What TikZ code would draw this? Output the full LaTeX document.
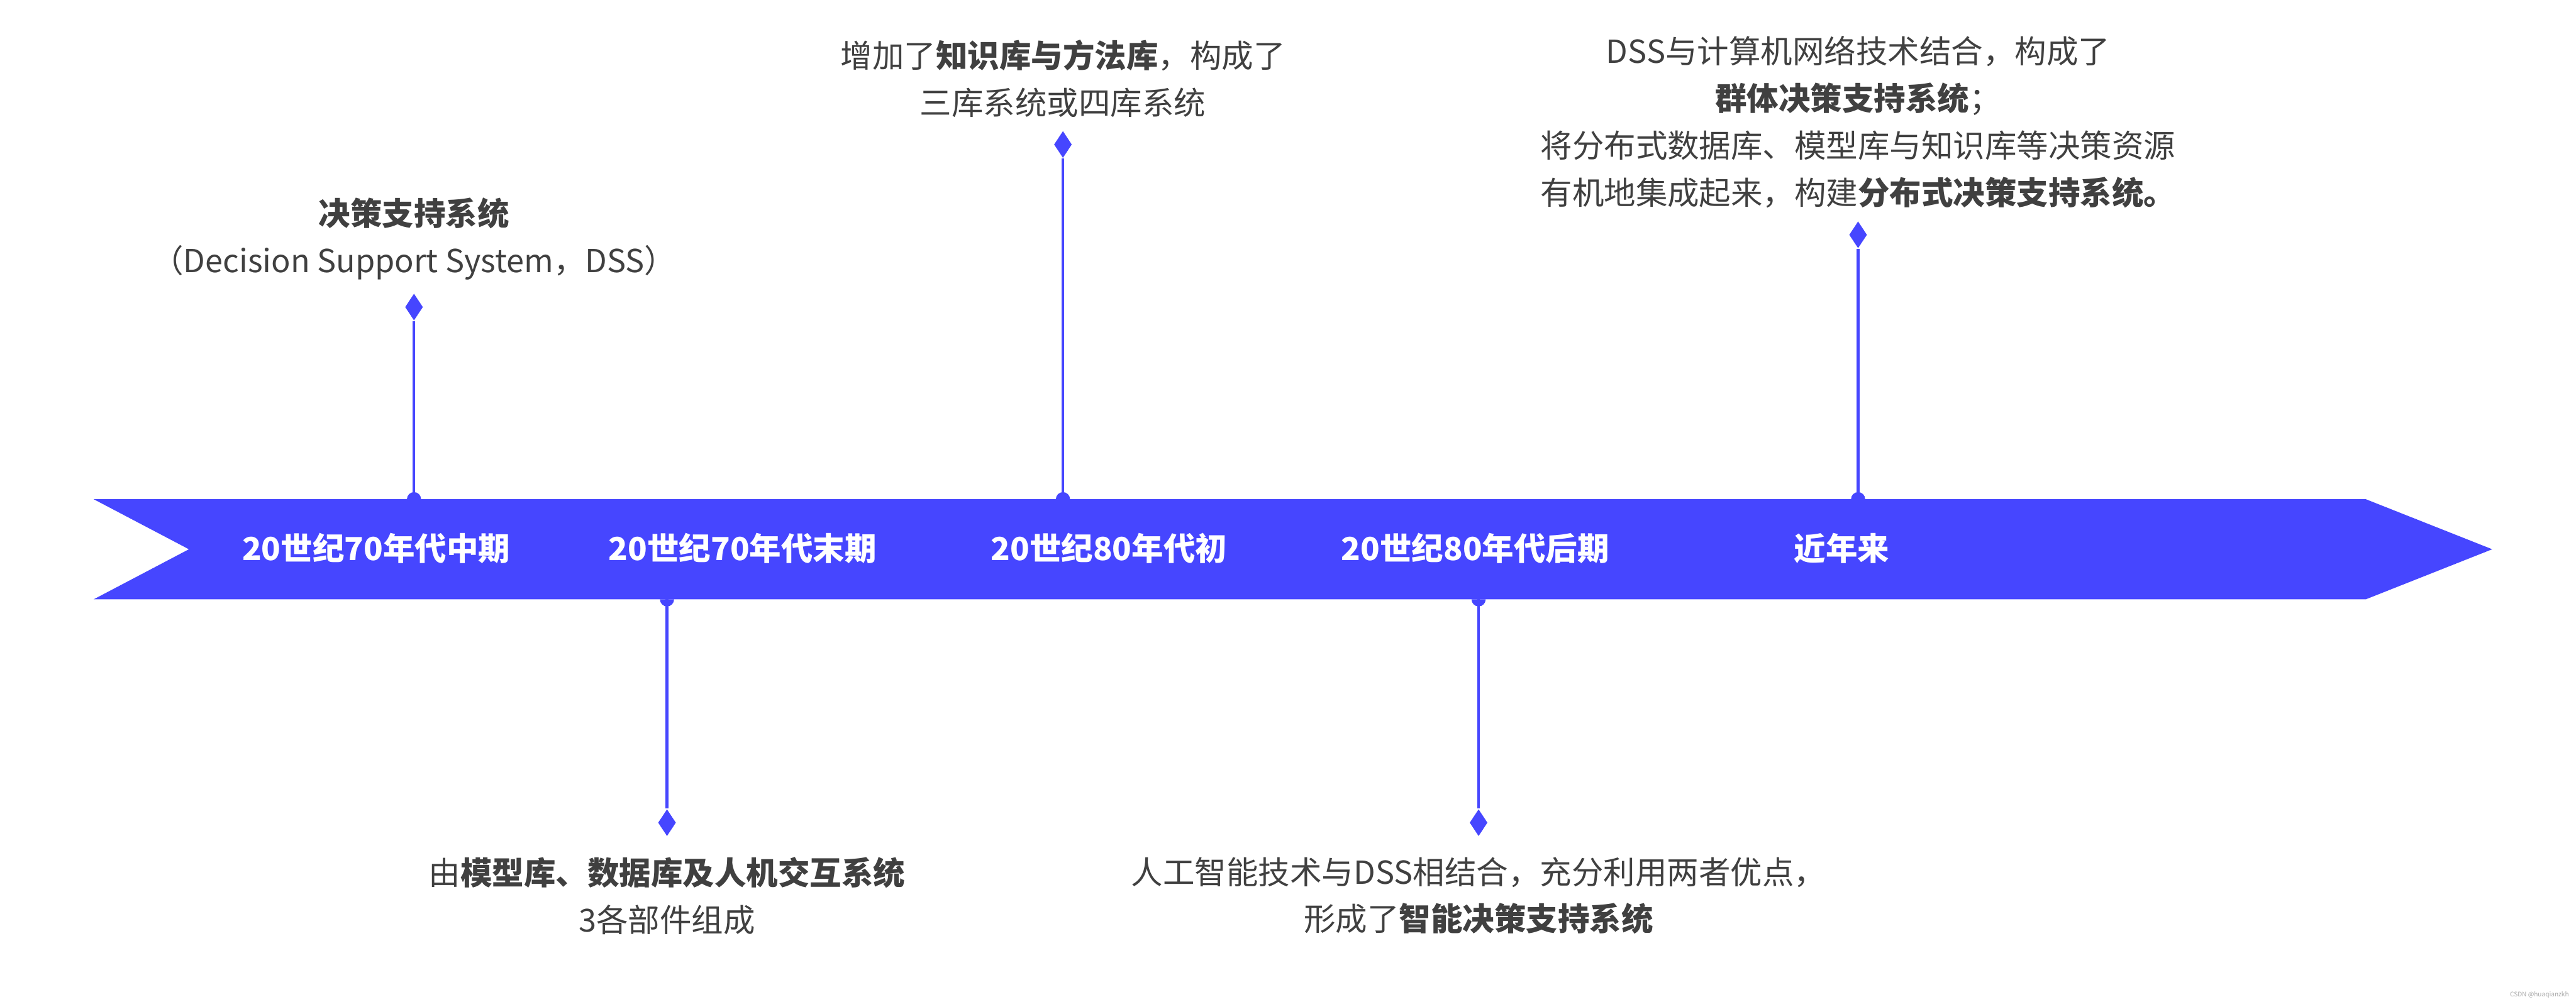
\documentclass[tikz,border=0pt]{standalone}
\usepackage{fontspec}
\setmainfont{Noto Sans CJK SC}
\usetikzlibrary{positioning,shapes.geometric}
\definecolor{LineBlue}{HTML}{4646FF}
\definecolor{TextGray}{HTML}{404040}

\begin{document}
\begin{tikzpicture}[x=0.2mm, y=0.2mm, node distance=1.5mm,
  era/.style={font=\fontsize{11pt}{13pt}\selectfont\bfseries, text=white, inner sep=0pt},
  tipmark/.style={diamond, fill=LineBlue, inner sep=0pt,
                  minimum width=2.2mm, minimum height=3.3mm},
  note/.style={font=\fontsize{11pt}{16.3pt}\selectfont, text=TextGray,
               align=center, inner sep=0pt},
  stem/.style={draw=LineBlue, line width=0.95pt}]
  \useasboundingbox (0,0) rectangle (1568,610);

  % the time band
  \fill[LineBlue] (57,306) -- (1440,306) -- (1517,275.5) -- (1440,245)
                  -- (57,245) -- (115,275.5) -- cycle;
  \node[era] (p1) at (229,276) {20世纪70年代中期};
  \node[era] (p2) at (452,276) {20世纪70年代末期};
  \node[era] (p3) at (675,276) {20世纪80年代初};
  \node[era] (p4) at (898,276) {20世纪80年代后期};
  \node[era] (p5) at (1121,276) {近年来};

  % markers
  \node[tipmark] (d1) at (252,423) {};
  \node[tipmark] (d2) at (406,109) {};
  \node[tipmark] (d3) at (647,522) {};
  \node[tipmark] (d4) at (900,109) {};
  \node[tipmark] (d5) at (1131,467) {};
  \coordinate (s1) at (252,306);
  \coordinate (s2) at (406,245);
  \coordinate (s3) at (647,306);
  \coordinate (s4) at (900,245);
  \coordinate (s5) at (1131,306);
  \foreach \i in {1,3,5} {
    \draw[stem] (s\i) -- (d\i.south);
    \fill[LineBlue] (s\i) ++(-0.86mm,0) arc (180:0:0.86mm) -- cycle;
  }
  \foreach \i in {2,4} {
    \draw[stem] (s\i) -- (d\i.north);
    \fill[LineBlue] (s\i) ++(-0.86mm,0) arc (180:360:0.86mm) -- cycle;
  }

  % notes
  \node[note, above=of d1] (t1) {\textbf{决策支持系统}\\（Decision Support System，DSS）};
  \node[note, above=of d3] (t3) {增加了\textbf{知识库与方法库}，构成了\\三库系统或四库系统};
  \node[note, above=of d5] (t5) {DSS与计算机网络技术结合，构成了\\\textbf{群体决策支持系统}；\\
    将分布式数据库、模型库与知识库等决策资源\\有机地集成起来，构建\textbf{分布式决策支持系统。}};
  \node[note, below=2.4mm of d2] (t2) {由\textbf{模型库、数据库及人机交互系统}\\3各部件组成};
  \node[note, below=2.4mm of d4] (t4) {人工智能技术与DSS相结合，充分利用两者优点，\\形成了\textbf{智能决策支持系统}};

  \node[font=\fontsize{2.2pt}{3pt}\selectfont, text=gray!70, anchor=south east,
        inner sep=0pt] (wm) at (1564,2) {CSDN @huaqianzkh};
\end{tikzpicture}
\end{document}
